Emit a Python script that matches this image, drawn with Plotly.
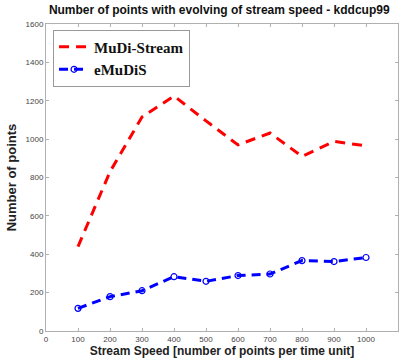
import plotly.graph_objects as go

speeds = [100, 200, 300, 400, 500, 600, 700, 800, 900, 1000]
mudi_stream = [440, 830, 1115, 1225, 1095, 970, 1032, 910, 988, 965]
emudis = [118, 179, 210, 283, 259, 289, 297, 367, 362, 383]

x_ticks = list(range(0, 1101, 100))
y_ticks = list(range(0, 1601, 200))

fig = go.Figure()
fig.add_trace(go.Scatter(
    x=speeds, y=mudi_stream, name="<b>MuDi-Stream</b>", mode="lines",
    line=dict(color="#ff0000", width=3, dash="10px,7px"),
))
fig.add_trace(go.Scatter(
    x=speeds, y=emudis, name="<b>eMuDiS</b>", mode="lines+markers",
    line=dict(color="#0000ff", width=3, dash="9px,6px"),
    marker=dict(symbol="circle-open", size=6, color="#0000ff", line=dict(width=1.2)),
))

axis_common = dict(
    showgrid=False, zeroline=False, showline=True, linecolor="#b0b0b0", linewidth=1,
    mirror="ticks", ticks="inside", ticklen=3, tickcolor="#b0b0b0",
    tickfont=dict(family="Liberation Sans", size=8, color="#444444"),
)

fig.update_layout(
    width=406, height=364,
    margin=dict(l=46, r=8, t=24, b=33),
    paper_bgcolor="white", plot_bgcolor="white",
    title=dict(
        text="<b>Number of points with evolving of stream speed - kddcup99</b>",
        font=dict(family="Liberation Sans", size=12, color="#111111"),
        x=0.54, xanchor="center", y=0.985, yanchor="top",
    ),
    xaxis=dict(
        range=[0, 1100], tickvals=x_ticks, ticktext=[str(v) for v in x_ticks],
        title=dict(text="<b>Stream Speed [number of points per time unit]</b>",
                   font=dict(family="Liberation Sans", size=12, color="#222222"), standoff=4),
        **axis_common,
    ),
    yaxis=dict(
        range=[0, 1600], tickvals=y_ticks, ticktext=[str(v) for v in y_ticks],
        title=dict(text="<b>Number of points</b>",
                   font=dict(family="Liberation Sans", size=13, color="#222222"), standoff=6),
        **axis_common,
    ),
    legend=dict(
        x=0.02, y=0.982, xanchor="left", yanchor="top",
        bgcolor="white", bordercolor="#999999", borderwidth=1,
        font=dict(family="Liberation Serif", size=15, color="#111111"),
        tracegroupgap=0, itemwidth=30,
    ),
    showlegend=True,
)

fig.write_html("out.html")
